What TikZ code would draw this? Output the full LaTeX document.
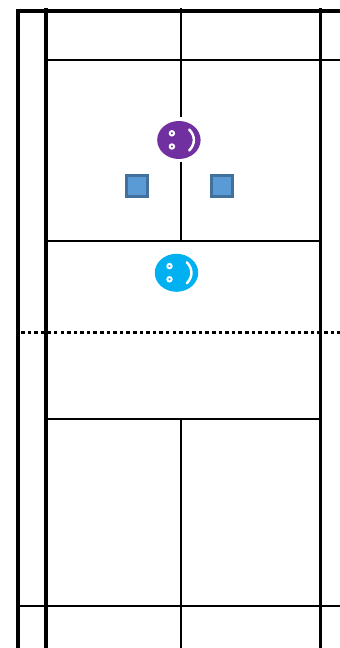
\documentclass[tikz,border=0pt]{standalone}
\usepackage{tikz}
\usetikzlibrary{calc}
\definecolor{facepurple}{HTML}{7030A0}
\definecolor{faceblue}{HTML}{00B0F0}
\definecolor{shuttlefill}{HTML}{5B9BD5}
\definecolor{shuttleedge}{HTML}{41719C}
\tikzset{
  heavyline/.style={line width=2.2pt},
  thinline/.style={line width=1.15pt},
  shuttlebox/.style={fill=shuttlefill,draw=shuttleedge,line width=1.5pt},
  pics/face/.style={code={
    \fill[#1] (0,0) ellipse (21.7 and 19);
    \draw[white,line width=1.1pt,fill=#1] (-7,-6.7) circle (2.2);
    \draw[white,line width=1.1pt,fill=#1] (-7,6.5) circle (2.2);
    \draw[white,line width=1.4pt,line cap=round] (10.3,-10.5) .. controls (16.5,-4) and (16.5,4) .. (10.3,10.5);
  }}
}

\begin{document}
\begin{tikzpicture}[x=0.02cm,y=-0.02cm]
\useasboundingbox (0,0) rectangle (340,648);

\draw[heavyline] (340,11)--(17.75,11)--(17.75,648); % outer edge
\draw[heavyline] (46.3,8)--(46.3,648);
\draw[heavyline] (320.5,8)--(320.5,648);

\draw[thinline] (46,60.3)--(340,60.3);
\draw[thinline] (17.75,606)--(340,606);
\draw[thinline] (46,241.1)--(320,241.1);
\draw[thinline] (46,419.3)--(320,419.3);

\draw[thinline] (180.8,8)--(180.8,117);
\draw[thinline] (180.8,162)--(180.8,241.3);
\draw[thinline] (180.8,419)--(180.8,648);

\draw[line width=2pt,dash pattern=on 2pt off 1.75pt] (21,332.3)--(340,332.3); % net

\draw[shuttlebox] (126.4,175.4) rectangle (147.4,196.8);
\draw[shuttlebox] (211.4,175.4) rectangle (232.8,196.8);

\pic at (178.9,140) {face=facepurple};
\pic at (176.5,272.8) {face=faceblue};
\end{tikzpicture}
\end{document}
